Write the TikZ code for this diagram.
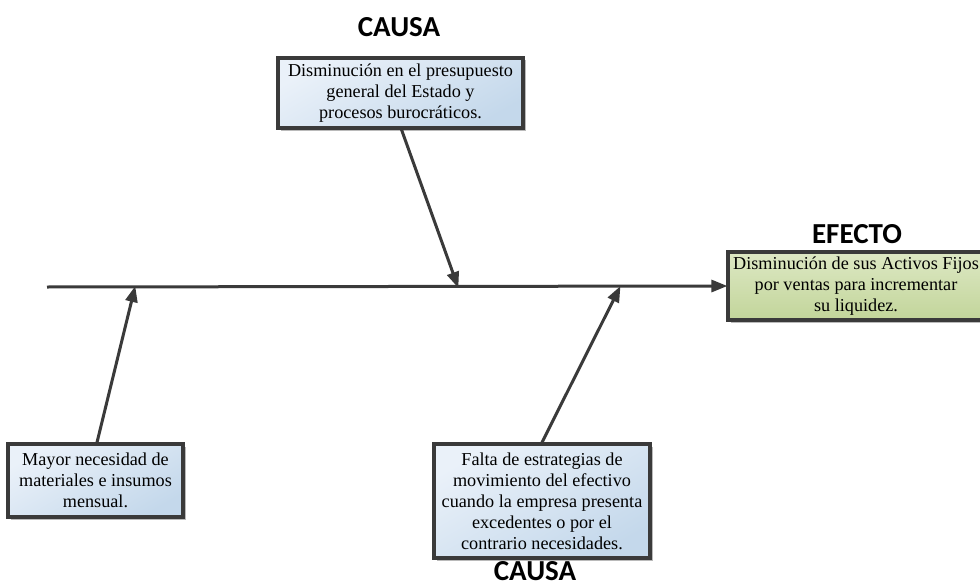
\documentclass[tikz,border=0pt]{standalone}
\usepackage{fontspec}
\setmainfont{Liberation Serif}
\newfontfamily\headfont{Carlito}
\usetikzlibrary{arrows.meta,shadows}

\definecolor{edgegray}{HTML}{3A3A3A}
\definecolor{bluelight}{HTML}{EAF1F9}
\definecolor{bluedark}{HTML}{C4D8EB}
\definecolor{greenlight}{HTML}{DDE8C4}
\definecolor{greendark}{HTML}{C2D59A}

\tikzset{
  x=1pt, y=-1pt,
  causebox/.style={draw=edgegray, line width=3.2pt, align=center,
    top color=bluelight, bottom color=bluedark, shading angle=30,
    font=\fontsize{18.2}{21}\selectfont, inner sep=2pt,
    drop shadow={shadow xshift=2.5pt, shadow yshift=-2.5pt, fill=black!45, opacity=0.6}},
  effectbox/.style={causebox, top color=greenlight, bottom color=greendark},
  heading/.style={font=\headfont\bfseries\fontsize{29}{32}\selectfont, inner sep=0pt},
  bone/.style={draw=edgegray, line width=3pt,
    -{Triangle[length=16pt,width=12pt]}, shorten >=-1pt},
}

\begin{document}
\begin{tikzpicture}
\clip (0,0) rectangle (980,586);
\fill[white] (0,0) rectangle (980,586);

% headings
\node[heading] (hcausatop) at (399,27) {CAUSA};
\node[heading] (hefecto) at (857,234) {EFECTO};
\node[heading] (hcausabot) at (535,571) {CAUSA};

% cause and effect boxes
\node[causebox, minimum width=245pt, minimum height=70pt] (ctop) at (400.5,93)
  {Disminución en el presupuesto\\general del Estado y\\procesos burocráticos.};
\node[causebox, minimum width=175pt, minimum height=73pt] (cleft) at (95.5,480.5)
  {Mayor necesidad de\\materiales e insumos\\mensual.};
\node[causebox, minimum width=216pt, minimum height=114pt] (cmid) at (542,501)
  {Falta de estrategias de\\movimiento del efectivo\\cuando la empresa presenta\\excedentes o por el\\contrario necesidades.};
\node[effectbox, minimum width=256pt, minimum height=68pt] (eff) at (856,286)
  {Disminución de sus Activos Fijos\\por ventas para incrementar\\su liquidez.};

% spine points
\coordinate (tail) at (47,287);
\coordinate (jtop) at (458,287);
\coordinate (jleft) at (135,287);
\coordinate (jmid) at (620,287);

% spine and bones
\draw[bone] (tail) -- (eff.west);
\draw[bone] (ctop.south) ++(1,0) coordinate (stop) (stop) -- (jtop);
\draw[bone] (cleft.north) ++(1.5,0) coordinate (sleft) (sleft) -- (jleft);
\draw[bone] (cmid.north) -- (jmid);
\end{tikzpicture}
\end{document}
